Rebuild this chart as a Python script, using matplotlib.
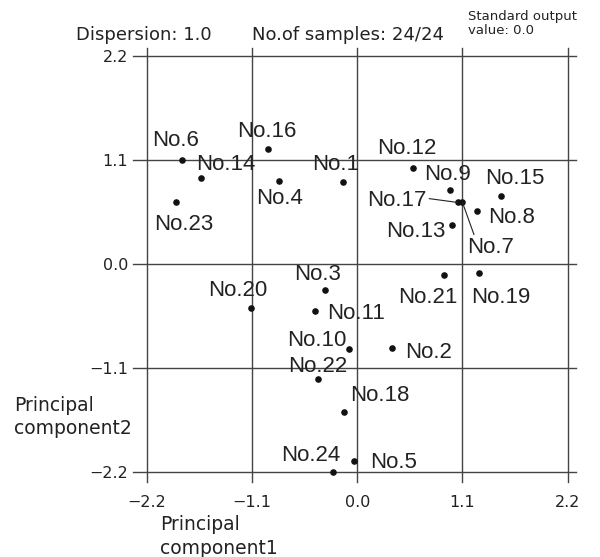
#!/usr/bin/env python3
# PCA score plot: principal component 1 vs 2 for 24 samples

import matplotlib
matplotlib.use("Agg")
import matplotlib.pyplot as plt

# Sample scores
labels = ["No.1", "No.2", "No.3", "No.4", "No.5", "No.6", "No.7", "No.8",
          "No.9", "No.10", "No.11", "No.12", "No.13", "No.14", "No.15", "No.16",
          "No.17", "No.18", "No.19", "No.20", "No.21", "No.22", "No.23", "No.24"]
pc1 = [-0.15, 0.36, -0.34, -0.82, -0.03, -1.83, 1.10, 1.25,
       0.97, -0.09, -0.44, 0.58, 0.99, -1.63, 1.50, -0.93,
       1.05, -0.14, 1.27, -1.11, 0.91, -0.41, -1.89, -0.25]
pc2 = [0.87, -0.89, -0.27, 0.88, -2.08, 1.10, 0.65, 0.56,
       0.78, -0.90, -0.50, 1.01, 0.41, 0.91, 0.72, 1.21,
       0.65, -1.56, -0.10, -0.46, -0.12, -1.21, 0.65, -2.20]

ticks = [-2.2, -1.1, 0.0, 1.1, 2.2]
tick_labels = ["\u22122.2", "\u22121.1", "0.0", "1.1", "2.2"]

dispersion = "Dispersion: 1.0"
n_samples = "No.of samples: 24/24"
std_out = ["Standard output", "value: 0.0"]

# Label placement: (dx, dy) in pixels from the point, horizontal alignment
label_pos = {
    "No.1": (-7.6, 12, "center"), "No.2": (13, -9.7, "left"),
    "No.3": (-7.3, 9.7, "center"), "No.4": (0.5, -23.3, "center"),
    "No.5": (16, -7, "left"), "No.6": (-6.5, 14, "center"),
    "No.7": (28, -51, "center"), "No.8": (11, -11.6, "left"),
    "No.9": (-2.6, 9.7, "center"), "No.10": (-2.3, 3.3, "right"),
    "No.11": (11.7, -7.3, "left"), "No.12": (-6, 14, "center"),
    "No.13": (-6.7, -11.7, "right"), "No.14": (-4.7, 8, "left"),
    "No.15": (13.7, 11.7, "center"), "No.16": (-1, 12.6, "center"),
    "No.17": (-31.3, -3.4, "right"), "No.18": (6.6, 11, "left"),
    "No.19": (22, -29.4, "center"), "No.20": (-13, 11.6, "center"),
    "No.21": (-16.7, -27.7, "center"), "No.22": (-0.6, 7, "center"),
    "No.23": (7, -27.7, "center"), "No.24": (-22.3, 11, "center"),
}
# leader lines: relative anchor on the label box
leaders = {"No.17": (1.0, 0.6), "No.7": (0.17, 1.0)}

line_col = "#444444"
text_col = "#222222"

fig = plt.figure(figsize=(6, 5.57), dpi=100)
ax = fig.add_axes([0.2445, 0.1521, 0.7017, 0.7479])
ax.set_xlim(-2.2, 2.2)
ax.set_ylim(-2.2, 2.2)
for s in ax.spines.values():
    s.set_visible(False)

# Grid lines, running a little past the frame like ticks
for v in ticks:
    ax.axhline(v, xmin=-0.033, xmax=1.019, color=line_col, lw=1.0, clip_on=False, zorder=1)
    ax.axvline(v, ymin=-0.024, ymax=1.019, color=line_col, lw=1.0, clip_on=False, zorder=1)

ax.set_xticks(ticks)
ax.set_xticklabels(tick_labels)
ax.set_yticks(ticks)
ax.set_yticklabels(tick_labels)
ax.tick_params(axis="x", length=0, pad=16, labelsize=11.5, labelcolor=text_col)
ax.tick_params(axis="y", length=0, pad=13.5, labelsize=11.5, labelcolor=text_col)

ax.scatter(pc1, pc2, s=14, color="#111111", zorder=3, clip_on=False)

for name, x, y in zip(labels, pc1, pc2):
    dx, dy, ha = label_pos[name]
    props = None
    if name in leaders:
        props = dict(arrowstyle="-", color="#222222", lw=0.8, shrinkA=0, shrinkB=0,
                     relpos=leaders[name])
    ax.annotate(name, xy=(x, y), xytext=(dx, dy), textcoords="offset pixels",
                ha=ha, va="baseline", fontsize=16, family="Liberation Sans",
                color=text_col, arrowprops=props, annotation_clip=False)

# Header texts
fig.text(76 / 600, 1 - 40 / 557, dispersion, fontsize=13, color=text_col, va="baseline")
fig.text(251.5 / 600, 1 - 39.5 / 557, n_samples, fontsize=13, color=text_col, va="baseline")
fig.text(468 / 600, 1 - 20 / 557, std_out[0], fontsize=9.5, color=text_col, va="baseline")
fig.text(468 / 600, 1 - 34 / 557, std_out[1], fontsize=9.5, color=text_col, va="baseline")

# Axis titles
fig.text(14 / 600, 1 - 396 / 557, "Principal\ncomponent2", fontsize=13.5,
         color=text_col, va="top", ha="left", linespacing=1.3)
fig.text(160 / 600, 1 - 515 / 557, "Principal\ncomponent1", fontsize=13.5,
         color=text_col, va="top", ha="left", linespacing=1.3)

fig.savefig("out.png", dpi=100)
